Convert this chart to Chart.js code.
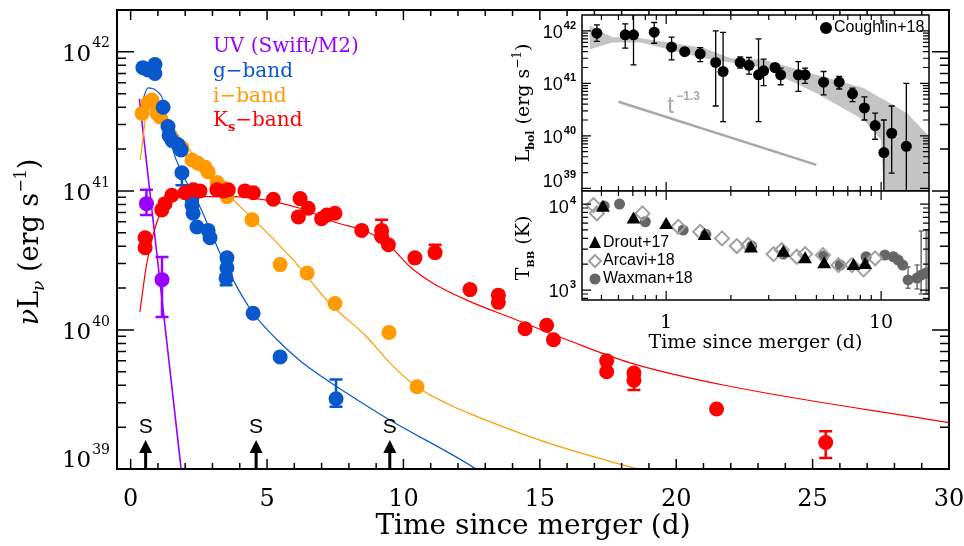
<!DOCTYPE html>
<html>
<head>
<meta charset="utf-8">
<script src="https://cdn.jsdelivr.net/npm/chart.js@4.4.0/dist/chart.umd.min.js"></script>
<style>
  html, body { margin: 0; padding: 0; background: #fff; }
  #wrap { position: relative; width: 964px; height: 546px; }
  #wrap canvas { position: absolute; left: 0; top: 0; }
</style>
</head>
<body>
<div id="wrap">
  <canvas id="main" width="964" height="546"></canvas>
  <canvas id="lbol" width="964" height="546"></canvas>
  <canvas id="tbb" width="964" height="546"></canvas>
</div>
<script>
// ---- main panel: nuL_nu light curves ----
const uvDays = [0.58, 1.15];
const uvLum = [8.1e40, 2.3e40];
const uvErrLo = [6.7e40, 1.24e40];
const uvErrHi = [1.02e41, 3.35e40];

const gDays = [0.45, 0.64, 0.89, 0.89, 1.19, 1.37, 1.41, 1.52, 1.74, 1.85, 1.88, 2.25, 2.25, 2.29, 2.43, 2.84, 2.91, 3.53, 3.53, 3.50, 4.49, 5.48, 7.53];
const gLum = [7.7e41, 7.4e41, 8.1e41, 7.0e41, 4.0e41, 2.9e41, 2.5e41, 2.3e41, 2.15e41, 1.97e41, 1.35e41, 8.9e40, 7.9e40, 6.9e40, 5.5e40, 5.2e40, 4.6e40, 3.3e40, 2.8e40, 2.35e40, 1.32e40, 6.4e39, 3.2e39];
const gErrDays = [1.88, 2.25, 3.50, 7.53];
const gErrLo = [1.1e41, 8.5e40, 2.1e40, 2.8e39];
const gErrHi = [1.4e41, 9.7e40, 2.5e40, 4.4e39];

const iDays = [0.42, 0.64, 0.78, 0.97, 1.08, 1.88, 2.25, 2.47, 2.73, 2.84, 3.17, 3.39, 3.53, 4.45, 5.48, 6.47, 7.49, 9.47, 10.5];
const iLum = [3.6e41, 4.3e41, 4.5e41, 3.6e41, 3.4e41, 2.04e41, 1.67e41, 1.58e41, 1.48e41, 1.37e41, 1.15e41, 1.05e41, 9.1e40, 6.2e40, 2.95e40, 2.57e40, 1.55e40, 9.6e39, 3.9e39];

const ksDays = [0.53, 0.53, 1.14, 1.26, 1.51, 1.99, 2.3, 2.54, 3.16, 3.4, 3.58, 4.19, 4.5, 5.23, 6.21, 6.51, 6.15, 7.0, 7.19, 7.49, 8.47, 9.2, 9.2, 9.45, 10.42, 11.16, 12.44, 13.48, 13.48, 14.46, 15.25, 15.5, 17.45, 17.45, 18.45, 18.45, 21.48, 25.48];
const ksLum = [4.6e40, 3.9e40, 7.3e40, 8.1e40, 9.3e40, 9.7e40, 1.02e41, 1.0e41, 1.02e41, 1.0e41, 1.02e41, 1.0e41, 9.7e40, 8.7e40, 8.8e40, 7.5e40, 6.5e40, 6.3e40, 6.7e40, 6.9e40, 5.2e40, 5.2e40, 4.7e40, 4.1e40, 3.3e40, 3.6e40, 1.95e40, 1.78e40, 1.58e40, 1.02e40, 1.08e40, 8.5e39, 6.0e39, 5.0e39, 4.9e39, 4.35e39, 2.7e39, 1.55e39];
const ksErrDays = [9.2, 11.16, 18.45, 25.48];
const ksErrLo = [4.9e40, 3.4e40, 3.7e39, 1.2e39];
const ksErrHi = [6.2e40, 4.1e40, 4.6e39, 1.87e39];

// model curves
const uvModelDays = [0.32, 2.0];
const uvModelLum = [4.6e41, 5.5e38];
const gModelDays = [0.34, 0.64, 0.97, 1.19, 1.55, 1.88, 2.54, 3.28, 3.75, 4.49, 5.37, 6.21, 7.31, 8.3, 9.5, 12.66, 13.5];
const gModelLum = [3.8e41, 5.5e41, 5.2e41, 4.5e41, 1.97e41, 1.35e41, 7.7e40, 3.55e40, 2.3e40, 1.32e40, 8.5e39, 6.0e39, 4.2e39, 3.15e39, 2.25e39, 1e39, 7.6e38];
const iModelDays = [0.35, 0.71, 1.0, 1.33, 1.99, 2.91, 3.75, 4.49, 5.95, 7.31, 8.66, 9.5, 10.49, 11.59, 12.48, 15.13, 18.58, 19.5];
const iModelLum = [1.67e41, 4.8e41, 4.3e41, 3.4e41, 2.15e41, 1.37e41, 8.7e40, 6.3e40, 3.2e40, 1.55e40, 8.9e39, 5.8e39, 3.9e39, 2.96e39, 2.48e39, 1.58e39, 1e39, 9e38];
const ksModelDays = [0.34, 0.59, 1.08, 1.44, 2.06, 3.75, 6.21, 7.43, 8.65, 9.51, 10.24, 11.1, 12.32, 14.15, 15.99, 18.31, 21.77, 30.1];
const ksModelLum = [1.35e40, 3.0e40, 6.9e40, 8.6e40, 9.1e40, 9.1e40, 7.5e40, 6.0e40, 5.1e40, 4.0e40, 2.85e40, 2.16e40, 1.64e40, 1.18e40, 8.5e39, 5.8e39, 4.0e39, 2.14e39];

const specDays = [0.55, 4.6, 9.5];   // "S" arrows

const xMajor = [0, 5, 10, 15, 20, 25, 30];
const xTickLabels = ['0', '5', '10', '15', '20', '25', '30'];
const yMajor = [1e39, 1e40, 1e41, 1e42];
const yTickExp = ['39', '40', '41', '42'];

// ---- inset: bolometric luminosity ----
const cDays = [0.476, 0.645, 0.705, 0.88, 1.06, 1.22, 1.44, 1.70, 1.84, 2.21, 2.43, 2.69, 2.84, 3.21, 3.41, 4.12, 4.43, 5.4, 6.38, 7.36, 8.36, 9.38, 10.3, 11.2, 13.1];
const cLum = [9.0e41, 8.4e41, 8.4e41, 9.4e41, 4.9e41, 4.0e41, 3.65e41, 2.5e41, 1.68e41, 2.5e41, 2.2e41, 1.45e41, 1.73e41, 2.0e41, 1.45e41, 1.45e41, 1.45e41, 1.05e41, 1.05e41, 6.3e40, 3.4e40, 1.57e40, 4.8e39, 1.12e40, 6.3e39];
const cErrHi = [1.3e42, 1.36e42, 3e42, 1.44e42, 7.6e41, 4.7e41, 4.8e41, 1.0e42, 9.3e41, 3.2e41, 3.1e41, 7.0e41, 2.9e41, 2.25e41, 1.95e41, 2.6e41, 1.95e41, 1.68e41, 1.35e41, 8.1e40, 5.5e40, 2.7e40, 2.0e40, 3.7e40, 1.0e41];
const cErrLo = [6.3e41, 4.7e41, 2.25e41, 5.8e41, 2.8e41, 3.5e41, 2.6e41, 3.7e40, 1.87e40, 1.95e41, 1.5e41, 1.87e40, 9.0e40, 1.68e41, 9.4e40, 7.0e40, 1.0e41, 6.0e40, 7.8e40, 4.5e40, 2.0e40, 8.6e39, 1e38, 1.95e39, 1e38];
const bandDays = [0.44, 0.56, 0.76, 1.5, 2.0, 2.85, 5.0, 8.3, 10.0, 10.4, 13.2, 16.7];
const bandHi = [1.26e42, 7.6e41, 7.2e41, 4.7e41, 3.0e41, 2.8e41, 1.45e41, 8.1e40, 5.2e40, 4.8e40, 2.7e40, 9.8e39];
const bandLo = [4.4e41, 6.0e41, 6.0e41, 3.0e41, 2.5e41, 1.95e41, 6.5e40, 2.0e40, 8.3e39, 3e38, 3e38, 3e38];
const powDays = [0.6, 5.0];
const powLum = [4.45e40, 2.8e39];

// ---- inset: blackbody temperature ----
const dDays = [0.508, 0.705, 1.0, 1.51, 2.48, 3.51, 4.43, 5.43, 7.44, 8.43];
const dTemp = [9060, 6640, 5700, 4250, 3050, 2720, 2280, 1990, 1900, 1950];
const aDays = [0.459, 0.476, 0.776, 1.14, 1.44, 1.82, 2.13, 2.41, 3.16, 3.45, 4.05, 4.43, 5.36, 6.33, 7.31, 8.28, 9.38];
const aTemp = [9730, 7790, 7790, 5440, 4760, 3990, 3250, 3340, 2620, 2920, 2440, 2620, 2550, 1950, 1950, 1740, 2340];
const wDays = [0.515, 0.607, 0.80, 1.20, 1.53, 2.5, 3.51, 5.4, 6.45, 8.51, 10.4, 11.4, 12.0, 12.6, 13.35, 14.7, 15.35, 16.2, 16.55];
const wTemp = [9480, 10000, 6230, 4990, 4450, 3250, 2620, 2490, 1950, 2440, 2550, 2440, 2230, 1950, 1310, 1380, 1490, 1580, 1580];
const wErrDays = [13.35, 14.7, 15.35, 16.2, 16.55];
const wErrLo = [1050, 1030, 900, 900, 900];
const wErrHi = [1850, 1950, 4850, 4990, 4990];

const PURPLE = '#9a00ff', BLUE = '#0857cc', ORANGE = '#ff9a00', RED = '#ff0000';
const SERIF = '"DejaVu Serif", serif';
const SANS = '"Liberation Sans", Arial, sans-serif';

function pts(xs, ys, color, r, extra) {
  return Object.assign({
    data: xs.map((x, i) => ({ x: x, y: ys[i] })),
    backgroundColor: color, borderColor: color, borderWidth: 0,
    pointRadius: r, pointHoverRadius: r, showLine: false
  }, extra || {});
}
function curve(xs, ys, color, w, extra) {
  return Object.assign({
    data: xs.map((x, i) => ({ x: x, y: ys[i] })),
    borderColor: color, borderWidth: w, pointRadius: 0, showLine: true,
    fill: false, cubicInterpolationMode: 'monotone'
  }, extra || {});
}

function clipTo(ctx, ca) {
  ctx.beginPath();
  ctx.rect(ca.left, ca.top, ca.width, ca.height);
  ctx.clip();
}
function errBars(ctx, chart, xs, lo, hi, color, lw, cap) {
  const sx = chart.scales.x, sy = chart.scales.y;
  ctx.strokeStyle = color;
  ctx.lineWidth = lw;
  xs.forEach((x, i) => {
    const px = sx.getPixelForValue(x);
    const y1 = sy.getPixelForValue(lo[i]), y2 = sy.getPixelForValue(hi[i]);
    ctx.beginPath();
    ctx.moveTo(px, y1); ctx.lineTo(px, y2);
    ctx.moveTo(px - cap / 2, y1); ctx.lineTo(px + cap / 2, y1);
    ctx.moveTo(px - cap / 2, y2); ctx.lineTo(px + cap / 2, y2);
    ctx.stroke();
  });
}
function logMinors(lo, hi) {
  const out = [];
  for (let e = Math.floor(Math.log10(lo)); e <= Math.ceil(Math.log10(hi)); e++) {
    for (let m = 2; m <= 9; m++) {
      const v = m * Math.pow(10, e);
      if (v > lo && v < hi) out.push(v);
    }
  }
  return out;
}
function ticksX(ctx, sc, ca, vals, len) {
  vals.forEach(v => {
    const p = sc.getPixelForValue(v);
    if (p < ca.left + 0.5 || p > ca.right - 0.5) return;
    ctx.beginPath();
    ctx.moveTo(p, ca.bottom); ctx.lineTo(p, ca.bottom - len);
    ctx.moveTo(p, ca.top); ctx.lineTo(p, ca.top + len);
    ctx.stroke();
  });
}
function ticksY(ctx, sc, ca, vals, len) {
  vals.forEach(v => {
    const p = sc.getPixelForValue(v);
    if (p < ca.top + 0.5 || p > ca.bottom - 0.5) return;
    ctx.beginPath();
    ctx.moveTo(ca.left, p); ctx.lineTo(ca.left + len, p);
    ctx.moveTo(ca.right, p); ctx.lineTo(ca.right - len, p);
    ctx.stroke();
  });
}
// base text with superscript, right aligned at xr
function supLabel(ctx, base, sup, xr, y, baseFont, supFont, supDy) {
  ctx.textAlign = 'left';
  ctx.textBaseline = 'middle';
  ctx.font = supFont;
  const ws = ctx.measureText(sup).width;
  ctx.font = baseFont;
  const wb = ctx.measureText(base).width;
  ctx.fillText(base, xr - ws - wb - 1, y);
  ctx.font = supFont;
  ctx.fillText(sup, xr - ws, y + supDy);
}
// run of [text, font, dy] pieces on one baseline, centred at 0
function runText(ctx, pieces) {
  ctx.textAlign = 'left';
  ctx.textBaseline = 'alphabetic';
  let total = 0;
  pieces.forEach(p => { ctx.font = p[1]; total += ctx.measureText(p[0]).width; });
  let x = -total / 2;
  pieces.forEach(p => {
    ctx.font = p[1];
    ctx.fillText(p[0], x, p[2]);
    x += ctx.measureText(p[0]).width;
  });
}

const mainDecor = {
  id: 'mainDecor',
  beforeDatasetDraw(chart, args) {
    if (args.index !== 3) return;
    const ctx = chart.ctx;
    ctx.save();
    clipTo(ctx, chart.chartArea);
    errBars(ctx, chart, uvDays, uvErrLo, uvErrHi, PURPLE, 2.5, 13);
    errBars(ctx, chart, gErrDays, gErrLo, gErrHi, BLUE, 2.5, 13);
    errBars(ctx, chart, ksErrDays, ksErrLo, ksErrHi, RED, 2.5, 13);
    ctx.restore();
  },
  afterDraw(chart) {
    const ctx = chart.ctx, ca = chart.chartArea;
    const sx = chart.scales.x, sy = chart.scales.y;
    ctx.save();
    ctx.strokeStyle = '#000';
    ctx.fillStyle = '#000';
    ctx.lineWidth = 2;
    ctx.strokeRect(ca.left, ca.top, ca.width, ca.height);
    ctx.lineWidth = 1.5;
    const xMinor = [];
    for (let d = 1; d < 30; d++) if (d % 5) xMinor.push(d);
    ticksX(ctx, sx, ca, xMajor, 10);
    ticksX(ctx, sx, ca, xMinor, 6);
    ticksY(ctx, sy, ca, yMajor, 17);
    ticksY(ctx, sy, ca, logMinors(1e39, 2e42), 9);

    // tick labels
    ctx.font = '24px ' + SERIF;
    ctx.textAlign = 'center';
    ctx.textBaseline = 'middle';
    xMajor.forEach((v, i) => ctx.fillText(xTickLabels[i], sx.getPixelForValue(v), ca.bottom + 31));
    yMajor.forEach((v, i) => {
      const p = Math.min(sy.getPixelForValue(v) + 3, ca.bottom - 8);
      supLabel(ctx, '10', yTickExp[i], 110, p, '23px ' + SERIF, '14px ' + SERIF, -11);
    });

    // axis titles
    ctx.textAlign = 'center';
    ctx.textBaseline = 'middle';
    ctx.font = '28px ' + SERIF;
    ctx.fillText('Time since merger (d)', (ca.left + ca.right) / 2, 527);
    ctx.save();
    ctx.translate(38, 242);
    ctx.rotate(-Math.PI / 2);
    runText(ctx, [
      ['\u03BD', 'italic 27px ' + SERIF, 0],
      ['L', '27px ' + SERIF, 0],
      ['\u03BD', 'italic 17px ' + SERIF, 6],
      [' (erg s', '27px ' + SERIF, 0],
      ['\u22121', '16px ' + SERIF, -12],
      [')', '27px ' + SERIF, 0]
    ]);
    ctx.restore();

    // legend
    const legend = [
      ['UV (Swift/M2)', PURPLE, 47], ['g\u2212band', BLUE, 72], ['i\u2212band', ORANGE, 97]
    ];
    ctx.textAlign = 'left';
    ctx.textBaseline = 'middle';
    legend.forEach(l => {
      ctx.font = '20px ' + SERIF;
      ctx.fillStyle = l[1];
      ctx.fillText(l[0], 213, l[2]);
    });
    ctx.fillStyle = RED;
    ctx.font = '20px ' + SERIF;
    ctx.fillText('K', 213, 121);
    let kx = 213 + ctx.measureText('K').width;
    ctx.font = 'bold 13px ' + SERIF;
    ctx.fillText('s', kx, 128);
    kx += ctx.measureText('s').width;
    ctx.font = '20px ' + SERIF;
    ctx.fillText('\u2212band', kx, 121);

    // spectra arrows
    ctx.fillStyle = '#000';
    ctx.font = '21px ' + SANS;
    ctx.textAlign = 'center';
    specDays.forEach(d => {
      const px = sx.getPixelForValue(d);
      ctx.fillText('S', px, ca.bottom - 42);
      ctx.beginPath();
      ctx.moveTo(px, ca.bottom - 29);
      ctx.lineTo(px - 6.5, ca.bottom - 16);
      ctx.lineTo(px + 6.5, ca.bottom - 16);
      ctx.closePath();
      ctx.fill();
      ctx.fillRect(px - 1.5, ca.bottom - 17, 3, 17);
    });
    ctx.restore();
  }
};

new Chart(document.getElementById('main'), {
  type: 'scatter',
  data: {
    datasets: [
      pts(ksDays, ksLum, RED, 7.5),
      pts(gDays, gLum, BLUE, 7.5),
      pts(iDays, iLum, ORANGE, 7.5),
      pts(uvDays, uvLum, PURPLE, 7.5),
      curve(ksModelDays, ksModelLum, RED, 1.2),
      curve(iModelDays, iModelLum, ORANGE, 1.2),
      curve(gModelDays, gModelLum, BLUE, 1.2),
      curve(uvModelDays, uvModelLum, PURPLE, 1.6)
    ]
  },
  options: {
    responsive: false, animation: false, events: [],
    layout: { padding: { left: 117, top: 10, right: 15, bottom: 77 } },
    plugins: { legend: { display: false }, tooltip: { enabled: false } },
    scales: {
      x: { type: 'linear', min: -0.5, max: 30, display: false },
      y: { type: 'logarithmic', min: 1e39, max: 2e42, display: false }
    }
  },
  plugins: [mainDecor]
});

// ---- insets ----
const insetX = { type: 'logarithmic', min: 0.406, max: 16.7, display: false };
const insetXMinor = [0.5, 0.6, 0.7, 0.8, 0.9, 2, 3, 4, 5, 6, 7, 8, 9];

function insetFrame(ctx, chart, yMaj, yMin) {
  const ca = chart.chartArea;
  ctx.strokeStyle = '#000';
  ctx.lineWidth = 1.5;
  ctx.strokeRect(ca.left, ca.top, ca.width, ca.height);
  ctx.lineWidth = 1.2;
  ticksX(ctx, chart.scales.x, ca, [1, 10], 9);
  ticksX(ctx, chart.scales.x, ca, insetXMinor, 5);
  ticksY(ctx, chart.scales.y, ca, yMaj, 9);
  ticksY(ctx, chart.scales.y, ca, yMin, 6);
}
const whiteBg = {
  id: 'whiteBg',
  beforeDraw(chart) {
    const ca = chart.chartArea;
    chart.ctx.save();
    chart.ctx.fillStyle = '#fff';
    chart.ctx.fillRect(ca.left, ca.top, ca.width, ca.height);
    chart.ctx.restore();
  }
};

const lbolMajor = [1e39, 1e40, 1e41, 1e42];
const lbolExp = ['39', '40', '41', '42'];

const lbolDecor = {
  id: 'lbolDecor',
  beforeDatasetDraw(chart, args) {
    if (args.index !== 0) return;
    const ctx = chart.ctx;
    ctx.save();
    clipTo(ctx, chart.chartArea);
    errBars(ctx, chart, cDays, cErrLo, cErrHi, '#000', 1.3, 6);
    ctx.restore();
  },
  afterDraw(chart) {
    const ctx = chart.ctx, ca = chart.chartArea, sy = chart.scales.y, sx = chart.scales.x;
    ctx.save();
    insetFrame(ctx, chart, lbolMajor, logMinors(8.9e38, 2e42));
    ctx.fillStyle = '#000';
    lbolMajor.forEach((v, i) => {
      const p = Math.min(sy.getPixelForValue(v) + 2, ca.bottom - 9);
      supLabel(ctx, '10', lbolExp[i], 576, p, '18px ' + SANS, 'bold 11px ' + SANS, -7);
    });
    // y title
    ctx.save();
    ctx.translate(529, (ca.top + ca.bottom) / 2);
    ctx.rotate(-Math.PI / 2);
    runText(ctx, [
      ['L', '19px ' + SERIF, 0],
      ['bol', 'bold 11px ' + SERIF, 5],
      [' (erg s', '19px ' + SERIF, 0],
      ['\u22121', '12px ' + SERIF, -8],
      [')', '19px ' + SERIF, 0]
    ]);
    ctx.restore();
    // power-law label
    ctx.fillStyle = '#a8a8a8';
    ctx.textAlign = 'left';
    ctx.textBaseline = 'alphabetic';
    ctx.font = '24px ' + SANS;
    const tx = sx.getPixelForValue(1.0) + 1;
    ctx.fillText('t', tx, ca.top + 98);
    ctx.font = 'bold 12px ' + SANS;
    ctx.fillText('\u22121.3', tx + 9, ca.top + 85);
    // legend
    ctx.fillStyle = '#000';
    ctx.beginPath();
    ctx.arc(826, ca.top + 13, 6, 0, Math.PI * 2);
    ctx.fill();
    ctx.font = '16px ' + SANS;
    ctx.textBaseline = 'middle';
    ctx.fillText('Coughlin+18', 834, ca.top + 13);
    ctx.restore();
  }
};

new Chart(document.getElementById('lbol'), {
  type: 'scatter',
  data: {
    datasets: [
      pts(cDays, cLum, '#000', 5.5),
      curve(powDays, powLum, '#a8a8a8', 2.5, { cubicInterpolationMode: 'default' }),
      curve(bandDays, bandHi, 'rgba(0,0,0,0)', 0, { fill: '+1', backgroundColor: '#c4c4c4', cubicInterpolationMode: 'default', tension: 0 }),
      curve(bandDays, bandLo, 'rgba(0,0,0,0)', 0, { cubicInterpolationMode: 'default', tension: 0 })
    ]
  },
  options: {
    responsive: false, animation: false, events: [],
    layout: { padding: { left: 582, top: 15, right: 35, bottom: 355 } },
    plugins: { legend: { display: false }, tooltip: { enabled: false } },
    scales: {
      x: insetX,
      y: { type: 'logarithmic', min: 8.9e38, max: 2e42, display: false }
    }
  },
  plugins: [whiteBg, lbolDecor]
});

const tMajor = [1e3, 1e4];
const tExp = ['3', '4'];
const insetXLabels = ['1', '10'];

const tbbDecor = {
  id: 'tbbDecor',
  beforeDatasetDraw(chart, args) {
    if (args.index !== 2) return;
    const ctx = chart.ctx;
    ctx.save();
    clipTo(ctx, chart.chartArea);
    errBars(ctx, chart, wErrDays, wErrLo, wErrHi, '#707070', 1.5, 5);
    ctx.restore();
  },
  afterDraw(chart) {
    const ctx = chart.ctx, ca = chart.chartArea, sy = chart.scales.y, sx = chart.scales.x;
    ctx.save();
    insetFrame(ctx, chart, tMajor, logMinors(766, 1.42e4));
    ctx.fillStyle = '#000';
    tMajor.forEach((v, i) => {
      const p = Math.min(sy.getPixelForValue(v) + 4, ca.bottom - 8);
      supLabel(ctx, '10', tExp[i], 576, p, '18px ' + SANS, 'bold 11px ' + SANS, -7);
    });
    ctx.font = '19px ' + SERIF;
    ctx.textAlign = 'center';
    ctx.textBaseline = 'middle';
    [1, 10].forEach((v, i) => ctx.fillText(insetXLabels[i], sx.getPixelForValue(v), ca.bottom + 23));
    ctx.font = '19px ' + SERIF;
    ctx.fillText('Time since merger (d)', (ca.left + ca.right) / 2, ca.bottom + 43);
    // y title
    ctx.save();
    ctx.translate(529, 248);
    ctx.rotate(-Math.PI / 2);
    runText(ctx, [
      ['T', '19px ' + SERIF, 0],
      ['BB', 'bold 10px ' + SERIF, 5],
      [' (K)', '19px ' + SERIF, 0]
    ]);
    ctx.restore();
    // legend
    ctx.textAlign = 'left';
    ctx.textBaseline = 'middle';
    ctx.font = '16px ' + SANS;
    ctx.fillStyle = '#000';
    ctx.beginPath();
    ctx.moveTo(595, 236); ctx.lineTo(589, 248); ctx.lineTo(601, 248); ctx.closePath();
    ctx.fill();
    ctx.fillText('Drout+17', 603, 243);
    ctx.strokeStyle = '#a0a0a0';
    ctx.lineWidth = 2;
    ctx.beginPath();
    ctx.moveTo(595, 255); ctx.lineTo(601, 261); ctx.lineTo(595, 267); ctx.lineTo(589, 261); ctx.closePath();
    ctx.stroke();
    ctx.fillStyle = '#000';
    ctx.fillText('Arcavi+18', 603, 261);
    ctx.fillStyle = '#666';
    ctx.beginPath();
    ctx.arc(595, 279, 5.5, 0, Math.PI * 2);
    ctx.fill();
    ctx.fillStyle = '#000';
    ctx.fillText('Waxman+18', 603, 279);
    ctx.restore();
  }
};

new Chart(document.getElementById('tbb'), {
  type: 'scatter',
  data: {
    datasets: [
      pts(dDays, dTemp, '#000', 8, { pointStyle: 'triangle' }),
      pts(aDays, aTemp, 'rgba(0,0,0,0)', 7, { pointStyle: 'rectRot', borderColor: '#a0a0a0', borderWidth: 2 }),
      pts(wDays, wTemp, '#666', 5.5)
    ]
  },
  options: {
    responsive: false, animation: false, events: [],
    layout: { padding: { left: 582, top: 191, right: 35, bottom: 246 } },
    plugins: { legend: { display: false }, tooltip: { enabled: false } },
    scales: {
      x: insetX,
      y: { type: 'logarithmic', min: 766, max: 1.42e4, display: false }
    }
  },
  plugins: [whiteBg, tbbDecor]
});
</script>
</body>
</html>
